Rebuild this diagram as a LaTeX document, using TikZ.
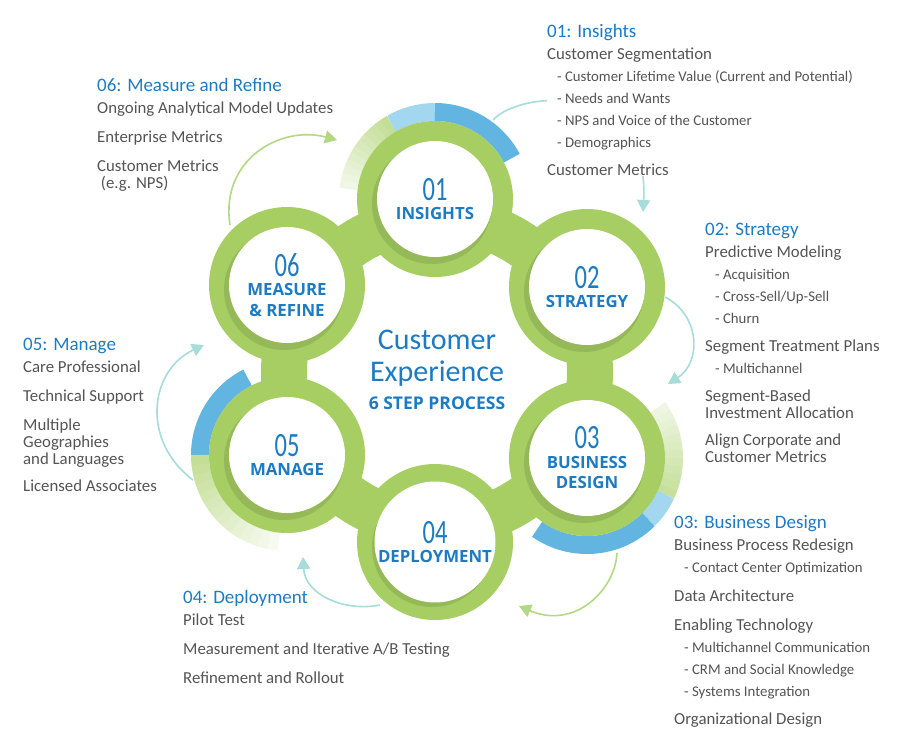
\documentclass[tikz,border=0pt]{standalone}
\usepackage{fontspec}
\setmainfont{Carlito}
\newfontfamily\capsfont{Open Sans}
\newfontfamily\numfont[FakeStretch=0.72]{Carlito}
\usetikzlibrary{arrows.meta,positioning,calc}
\definecolor{leaf}{HTML}{A6CE63}
\definecolor{paleleaf}{HTML}{C3DE96}
\definecolor{sky}{HTML}{62B5E1}
\definecolor{palesky}{HTML}{A3D6EF}
\definecolor{ink}{HTML}{1C7BC3}
\definecolor{graytext}{HTML}{545454}
\definecolor{aqua}{HTML}{A6DCDA}
\definecolor{sprout}{HTML}{B4D783}
\newcommand\steptitle[1]{{\fontsize{19}{22}\selectfont\color{ink}#1}}
\newcommand\substep[1]{\hspace*{10pt}{\fontsize{14.8}{22}\selectfont - #1}}
\newcommand\stepword[1]{{\capsfont\bfseries\fontsize{16.8}{20}\selectfont #1}}

\begin{document}
\begin{tikzpicture}[x=1pt,y=-1pt,
  stepnode/.style={circle,fill=white,minimum size=116pt,inner sep=0pt,align=center,
                   text=ink,font=\numfont\fontsize{34}{19.5}\selectfont},
  notes/.style={anchor=north west,inner sep=0pt,align=left,text=graytext,
                font=\fontsize{16.8}{22}\selectfont},
  flow/.style={line width=1.6pt,-{Triangle[length=12pt,width=13pt]}},
  band/.style={line width=18pt}]
  \useasboundingbox (0,0) rectangle (900,740);

  \coordinate (hub) at (437,372);
  \coordinate (p1) at (435,199);
  \coordinate (p2) at (587,287);
  \coordinate (p3) at (587,458);
  \coordinate (p4) at (435,542);
  \coordinate (p5) at (287,455);
  \coordinate (p6) at (287,285);

  % loop arrows between the steps
  \coordinate (a1s) at (493,120); \coordinate (a1e) at (643,212);
  \coordinate (a2s) at (665,297); \coordinate (a2e) at (668,384);
  \coordinate (a3s) at (617,553); \coordinate (a3e) at (519,606);
  \coordinate (a4s) at (380,605); \coordinate (a4e) at (303,557);
  \coordinate (a5s) at (193,480); \coordinate (a5e) at (204,345);
  \coordinate (a6s) at (230,225); \coordinate (a6e) at (337,140);
  \draw[flow,aqua] (a1s) .. controls (520,90) and (650,80) .. (a1e);
  \draw[flow,aqua] (a2s) .. controls (700,315) and (702,362) .. (a2e);
  \draw[flow,sprout] (a3s) .. controls (615,590) and (575,630) .. (a3e);
  \draw[flow,aqua] (a4s) .. controls (345,612) and (305,595) .. (a4e);
  \draw[flow,aqua] (a5s) .. controls (140,440) and (150,370) .. (a5e);
  \draw[flow,sprout] (a6s) .. controls (220,160) and (280,125) .. (a6e);

  % outer bands, the pale green ones fade out
  \foreach \k [evaluate=\k as \a using -120-\k*4.4,
               evaluate=\k as \m using int(100-\k*7)] in {0,...,11}
    \draw[band,paleleaf!\m!white] (p1) ++(\a:87) arc[start angle=\a,delta angle=-5,radius=87];
  \draw[band,palesky] (p1) ++(-90:87) arc[start angle=-90,end angle=-120,radius=87];
  \draw[band,sky] (p1) ++(-28:87) arc[start angle=-28,end angle=-90,radius=87];
  \foreach \k [evaluate=\k as \a using 25-\k*5,
               evaluate=\k as \m using int(95-\k*6)] in {0,...,11}
    \draw[band,paleleaf!\m!white] (p3) ++(\a:87) arc[start angle=\a,delta angle=-5.6,radius=87];
  \draw[band,palesky] (p3) ++(25:87) arc[start angle=25,end angle=45,radius=87];
  \draw[band,sky] (p3) ++(45:87) arc[start angle=45,end angle=125,radius=87];
  \draw[band,sky] (p5) ++(-117:87) arc[start angle=-117,end angle=-180,radius=87];
  \foreach \k [evaluate=\k as \a using -180-\k*6,
               evaluate=\k as \m using int(100-\k*6.5)] in {0,...,13}
    \draw[band,paleleaf!\m!white] (p5) ++(\a:87) arc[start angle=\a,delta angle=-6.6,radius=87];

  % green ring
  \draw[leaf,line width=46pt] (hub) circle[radius=153];
  \foreach \p in {p1,p2,p3,p4,p5,p6}
    \fill[leaf] (\p) circle[radius=78];
  \foreach \p in {p1,p2,p3,p4,p5,p6}
    \fill[black,opacity=.1] ($(\p)+(-3,5)$) circle[radius=60];

  \node[stepnode] (s1) at (p1) {01\\\stepword{INSIGHTS}};
  \node[stepnode] (s2) at (p2) {02\\\stepword{STRATEGY}};
  \node[stepnode] (s3) at (p3) {03\\\stepword{BUSINESS}\\[1pt]\stepword{DESIGN}};
  \node[stepnode] (s4) at (p4) {04\\\stepword{DEPLOYMENT}};
  \node[stepnode] (s5) at (p5) {05\\\stepword{MANAGE}};
  \node[stepnode] (s6) at (p6) {06\\\stepword{MEASURE}\\[1.5pt]\stepword{\& REFINE}};

  \node[anchor=north,inner sep=0pt,align=center,text=ink,font=\fontsize{30}{32}\selectfont]
    (core) at (437,330)
    {Customer\\Experience\\[-4pt]{\capsfont\bfseries\fontsize{17.5}{18}\selectfont 6 STEP PROCESS}};

  % step notes
  \node[notes,fill=white] (i1) at (547,24)
    {\steptitle{01: Insights}\\Customer Segmentation\\
     \substep{Customer Lifetime Value (Current and Potential)}\\
     \substep{Needs and Wants}\\\substep{NPS and Voice of the Customer}\\
     \substep{Demographics}\\[6pt]Customer Metrics};
  \node[notes] (i2) at (705,223)
    {\steptitle{02: Strategy}\\Predictive Modeling\\\substep{Acquisition}\\
     \substep{Cross-Sell/Up-Sell}\\\substep{Churn}\\[6pt]
     Segment Treatment Plans\\\substep{Multichannel}\\[6pt]
     Segment-Based\\[-5pt]Investment Allocation\\[5pt]
     Align Corporate and\\[-5pt]Customer Metrics};
  \node[notes] (i3) at (674,515)
    {\steptitle{03: Business Design}\\Business Process Redesign\\
     \substep{Contact Center Optimization}\\[7pt]Data Architecture\\[7pt]
     Enabling Technology\\\substep{Multichannel Communication}\\
     \substep{CRM and Social Knowledge}\\\substep{Systems Integration}\\[6pt]
     Organizational Design};
  \node[notes] (i4) at (183,590)
    {\steptitle{04: Deployment}\\Pilot Test\\[7pt]
     Measurement and Iterative A/B Testing\\[7pt]Refinement and Rollout};
  \node[notes] (i5) at (23,338)
    {\steptitle{05: Manage}\\Care Professional\\[7pt]Technical Support\\[7pt]
     Multiple\\[-5pt]Geographies\\[-5pt]and Languages\\[5pt]Licensed Associates};
  \node[notes] (i6) at (97,78)
    {\steptitle{06: Measure and Refine}\\Ongoing Analytical Model Updates\\[7pt]
     Enterprise Metrics\\[7pt]Customer Metrics\\[-5pt]\ (e.g. NPS)};
\end{tikzpicture}
\end{document}
